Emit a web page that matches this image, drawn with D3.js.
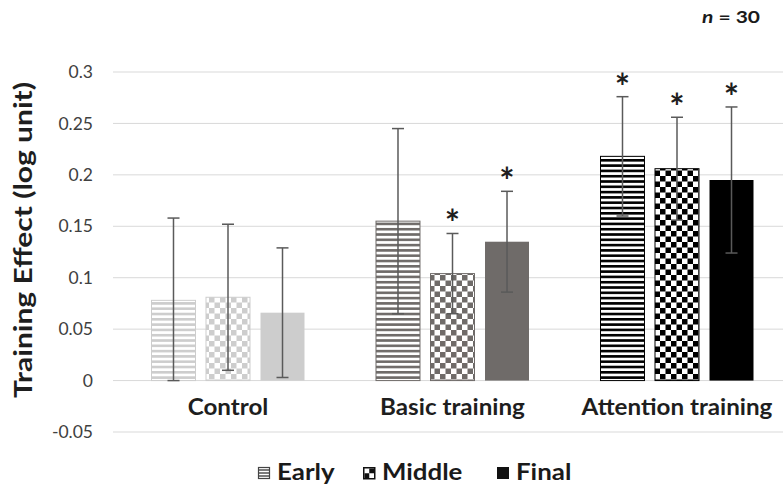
<!DOCTYPE html>
<html>
<head>
<meta charset="utf-8">
<script src="https://cdn.jsdelivr.net/npm/d3@7"></script>
<style>
  html, body { margin: 0; padding: 0; background: #fff; }
  svg { display: block; }
  text { font-family: Lato, "Open Sans", sans-serif; }
</style>
</head>
<body>
<svg id="chart" width="783" height="489"></svg>
<script>
// Groups, phases, means, error half-widths and significance marks
const groups = ["Control", "Basic training", "Attention training"];
const phases = ["Early", "Middle", "Final"];
const controlMeans   = [0.078, 0.081, 0.066];
const basicMeans     = [0.155, 0.104, 0.135];
const attentionMeans = [0.218, 0.206, 0.195];
const controlErr     = [0.080, 0.071, 0.063];
const basicErr       = [0.090, 0.039, 0.049];
const attentionErr   = [0.058, 0.050, 0.071];
const controlSig     = [false, false, false];
const basicSig       = [false, true, true];
const attentionSig   = [true, true, true];
const yTicks = [-0.05, 0, 0.05, 0.1, 0.15, 0.2, 0.25, 0.3];
const yTickLabels = ["-0.05", "0", "0.05", "0.1", "0.15", "0.2", "0.25", "0.3"];
const groupColors = ["#cdcdcd", "#6f6b69", "#000000"];

const rows = [
  { group: groups[0], means: controlMeans, errs: controlErr, sig: controlSig },
  { group: groups[1], means: basicMeans, errs: basicErr, sig: basicSig },
  { group: groups[2], means: attentionMeans, errs: attentionErr, sig: attentionSig }
];

const svg = d3.select("#chart");

const y = d3.scaleLinear().domain([-0.05, 0.3]).range([432, 72]);
const x0 = d3.scaleBand().domain(groups).range([115.75, 789.25])
  .paddingInner(0.3185).paddingOuter(0.3185 / 2);
const x1 = d3.scaleBand().domain(phases).range([0, x0.bandwidth()])
  .paddingInner(0.193).paddingOuter(0);

// Fill patterns: horizontal stripes, checkerboard, solid
const defs = svg.append("defs");
groupColors.forEach((c, gi) => {
  const stripe = defs.append("pattern")
    .attr("id", `stripe${gi}`).attr("patternUnits", "userSpaceOnUse")
    .attr("width", 8).attr("height", 5.3);
  stripe.append("rect").attr("width", 8).attr("height", 5.3).attr("fill", "#fff");
  stripe.append("rect").attr("width", 8).attr("height", 2.6).attr("fill", c);

  const checker = defs.append("pattern")
    .attr("id", `checker${gi}`).attr("patternUnits", "userSpaceOnUse")
    .attr("width", 11).attr("height", 11);
  checker.append("rect").attr("width", 11).attr("height", 11).attr("fill", "#fff");
  checker.append("rect").attr("width", 5.5).attr("height", 5.5).attr("fill", c);
  checker.append("rect").attr("x", 5.5).attr("y", 5.5).attr("width", 5.5).attr("height", 5.5).attr("fill", c);
});
function fillFor(gi, pi) {
  if (pi === 0) return `url(#stripe${gi})`;
  if (pi === 1) return `url(#checker${gi})`;
  return groupColors[gi];
}

// Y axis tick labels
const yAxis = d3.axisLeft(y).tickValues(yTicks)
  .tickFormat((d, i) => yTickLabels[i]).tickSize(0).tickPadding(0);
const gy = svg.append("g").attr("transform", "translate(93,0)").call(yAxis);
gy.select(".domain").remove();
gy.selectAll("text")
  .attr("font-size", 17.5).attr("fill", "#404040")
  .attr("font-family", "Lato, 'Open Sans', sans-serif");

// Gridlines
svg.append("g").selectAll("line").data(yTicks).join("line")
  .attr("x1", 113).attr("x2", 783)
  .attr("y1", d => y(d)).attr("y2", d => y(d))
  .attr("stroke", "#d9d9d9").attr("stroke-width", 1);

// Bars
const flat = [];
rows.forEach((r, gi) => phases.forEach((p, pi) => flat.push({
  group: r.group, phase: p, gi, pi, v: r.means[pi], e: r.errs[pi], sig: r.sig[pi]
})));

svg.append("g").selectAll("rect").data(flat).join("rect")
  .attr("x", d => x0(d.group) + x1(d.phase))
  .attr("y", d => y(d.v))
  .attr("width", x1.bandwidth())
  .attr("height", d => y(0) - y(d.v))
  .attr("fill", d => fillFor(d.gi, d.pi))
  .attr("stroke", d => d.pi === 2 ? "none" : groupColors[d.gi])
  .attr("stroke-width", 1);

// Error bars
const eb = svg.append("g").attr("stroke", "#5a5a5a").attr("stroke-width", 1.5);
flat.forEach(d => {
  const cx = x0(d.group) + x1(d.phase) + x1.bandwidth() / 2;
  const top = y(d.v + d.e), bot = y(Math.max(0, d.v - d.e));
  eb.append("line").attr("x1", cx).attr("x2", cx).attr("y1", top).attr("y2", bot);
  eb.append("line").attr("x1", cx - 6).attr("x2", cx + 6).attr("y1", top).attr("y2", top);
  eb.append("line").attr("x1", cx - 6).attr("x2", cx + 6).attr("y1", bot).attr("y2", bot);
});

// Significance marks
svg.append("g").selectAll("text").data(flat.filter(d => d.sig)).join("text")
  .attr("x", d => x0(d.group) + x1(d.phase) + x1.bandwidth() / 2)
  .attr("y", d => y(d.v + d.e) + 3)
  .attr("text-anchor", "middle")
  .attr("font-family", "'Liberation Sans', Arial, sans-serif")
  .attr("font-weight", "bold")
  .attr("font-size", 36).attr("fill", "#1e1e1e")
  .text("*");

// Category labels
svg.append("g").selectAll("text").data(groups).join("text")
  .attr("transform", d => `translate(${x0(d) + x0.bandwidth() / 2},415) scale(1.1,1)`)
  .attr("text-anchor", "middle")
  .attr("font-size", 22).attr("font-weight", "bold").attr("fill", "#1e1e1e")
  .text(d => d);

// Y axis title
svg.append("text")
  .attr("transform", "translate(32,240) rotate(-90) scale(1.2,1)")
  .attr("text-anchor", "middle")
  .attr("font-size", 25).attr("font-weight", "bold").attr("fill", "#1e1e1e")
  .text("Training Effect (log unit)");

// Sample size note
const note = svg.append("text").attr("transform", "translate(760,23) scale(1.2,1)")
  .attr("text-anchor", "end").attr("font-size", 17.5).attr("font-weight", "bold").attr("fill", "#1a1a1a");
note.append("tspan").attr("font-style", "italic").text("n");
note.append("tspan").text(" = 30");

// Legend
const legendX = [258, 363, 497];
const lg = svg.append("g");
phases.forEach((p, pi) => {
  const g = lg.append("g").attr("transform", `translate(${legendX[pi]},467)`);
  if (pi === 0) {
    g.append("rect").attr("x", 0.5).attr("y", 0.5).attr("width", 11).attr("height", 11).attr("fill", "#fff")
      .attr("stroke", "#444").attr("stroke-width", 1.2);
    [3, 6, 9].forEach(yy => g.append("line").attr("x1", 1).attr("x2", 11)
      .attr("y1", yy).attr("y2", yy).attr("stroke", "#444").attr("stroke-width", 1.4));
  } else if (pi === 1) {
    g.append("rect").attr("x", 0.75).attr("y", 0.75).attr("width", 11).attr("height", 11).attr("fill", "#fff")
      .attr("stroke", "#111").attr("stroke-width", 1.5);
    g.append("rect").attr("x", 6.25).attr("y", 1.5).attr("width", 4.75).attr("height", 4.75).attr("fill", "#111");
    g.append("rect").attr("x", 1.5).attr("y", 6.25).attr("width", 4.75).attr("height", 4.75).attr("fill", "#111");
  } else {
    g.append("rect").attr("width", 12).attr("height", 12).attr("fill", "#111");
  }
  g.append("text").attr("transform", "translate(19,13) scale(1.15,1)")
    .attr("font-size", 22.5).attr("font-weight", "bold").attr("fill", "#1a1a1a")
    .text(p);
});
</script>
</body>
</html>
